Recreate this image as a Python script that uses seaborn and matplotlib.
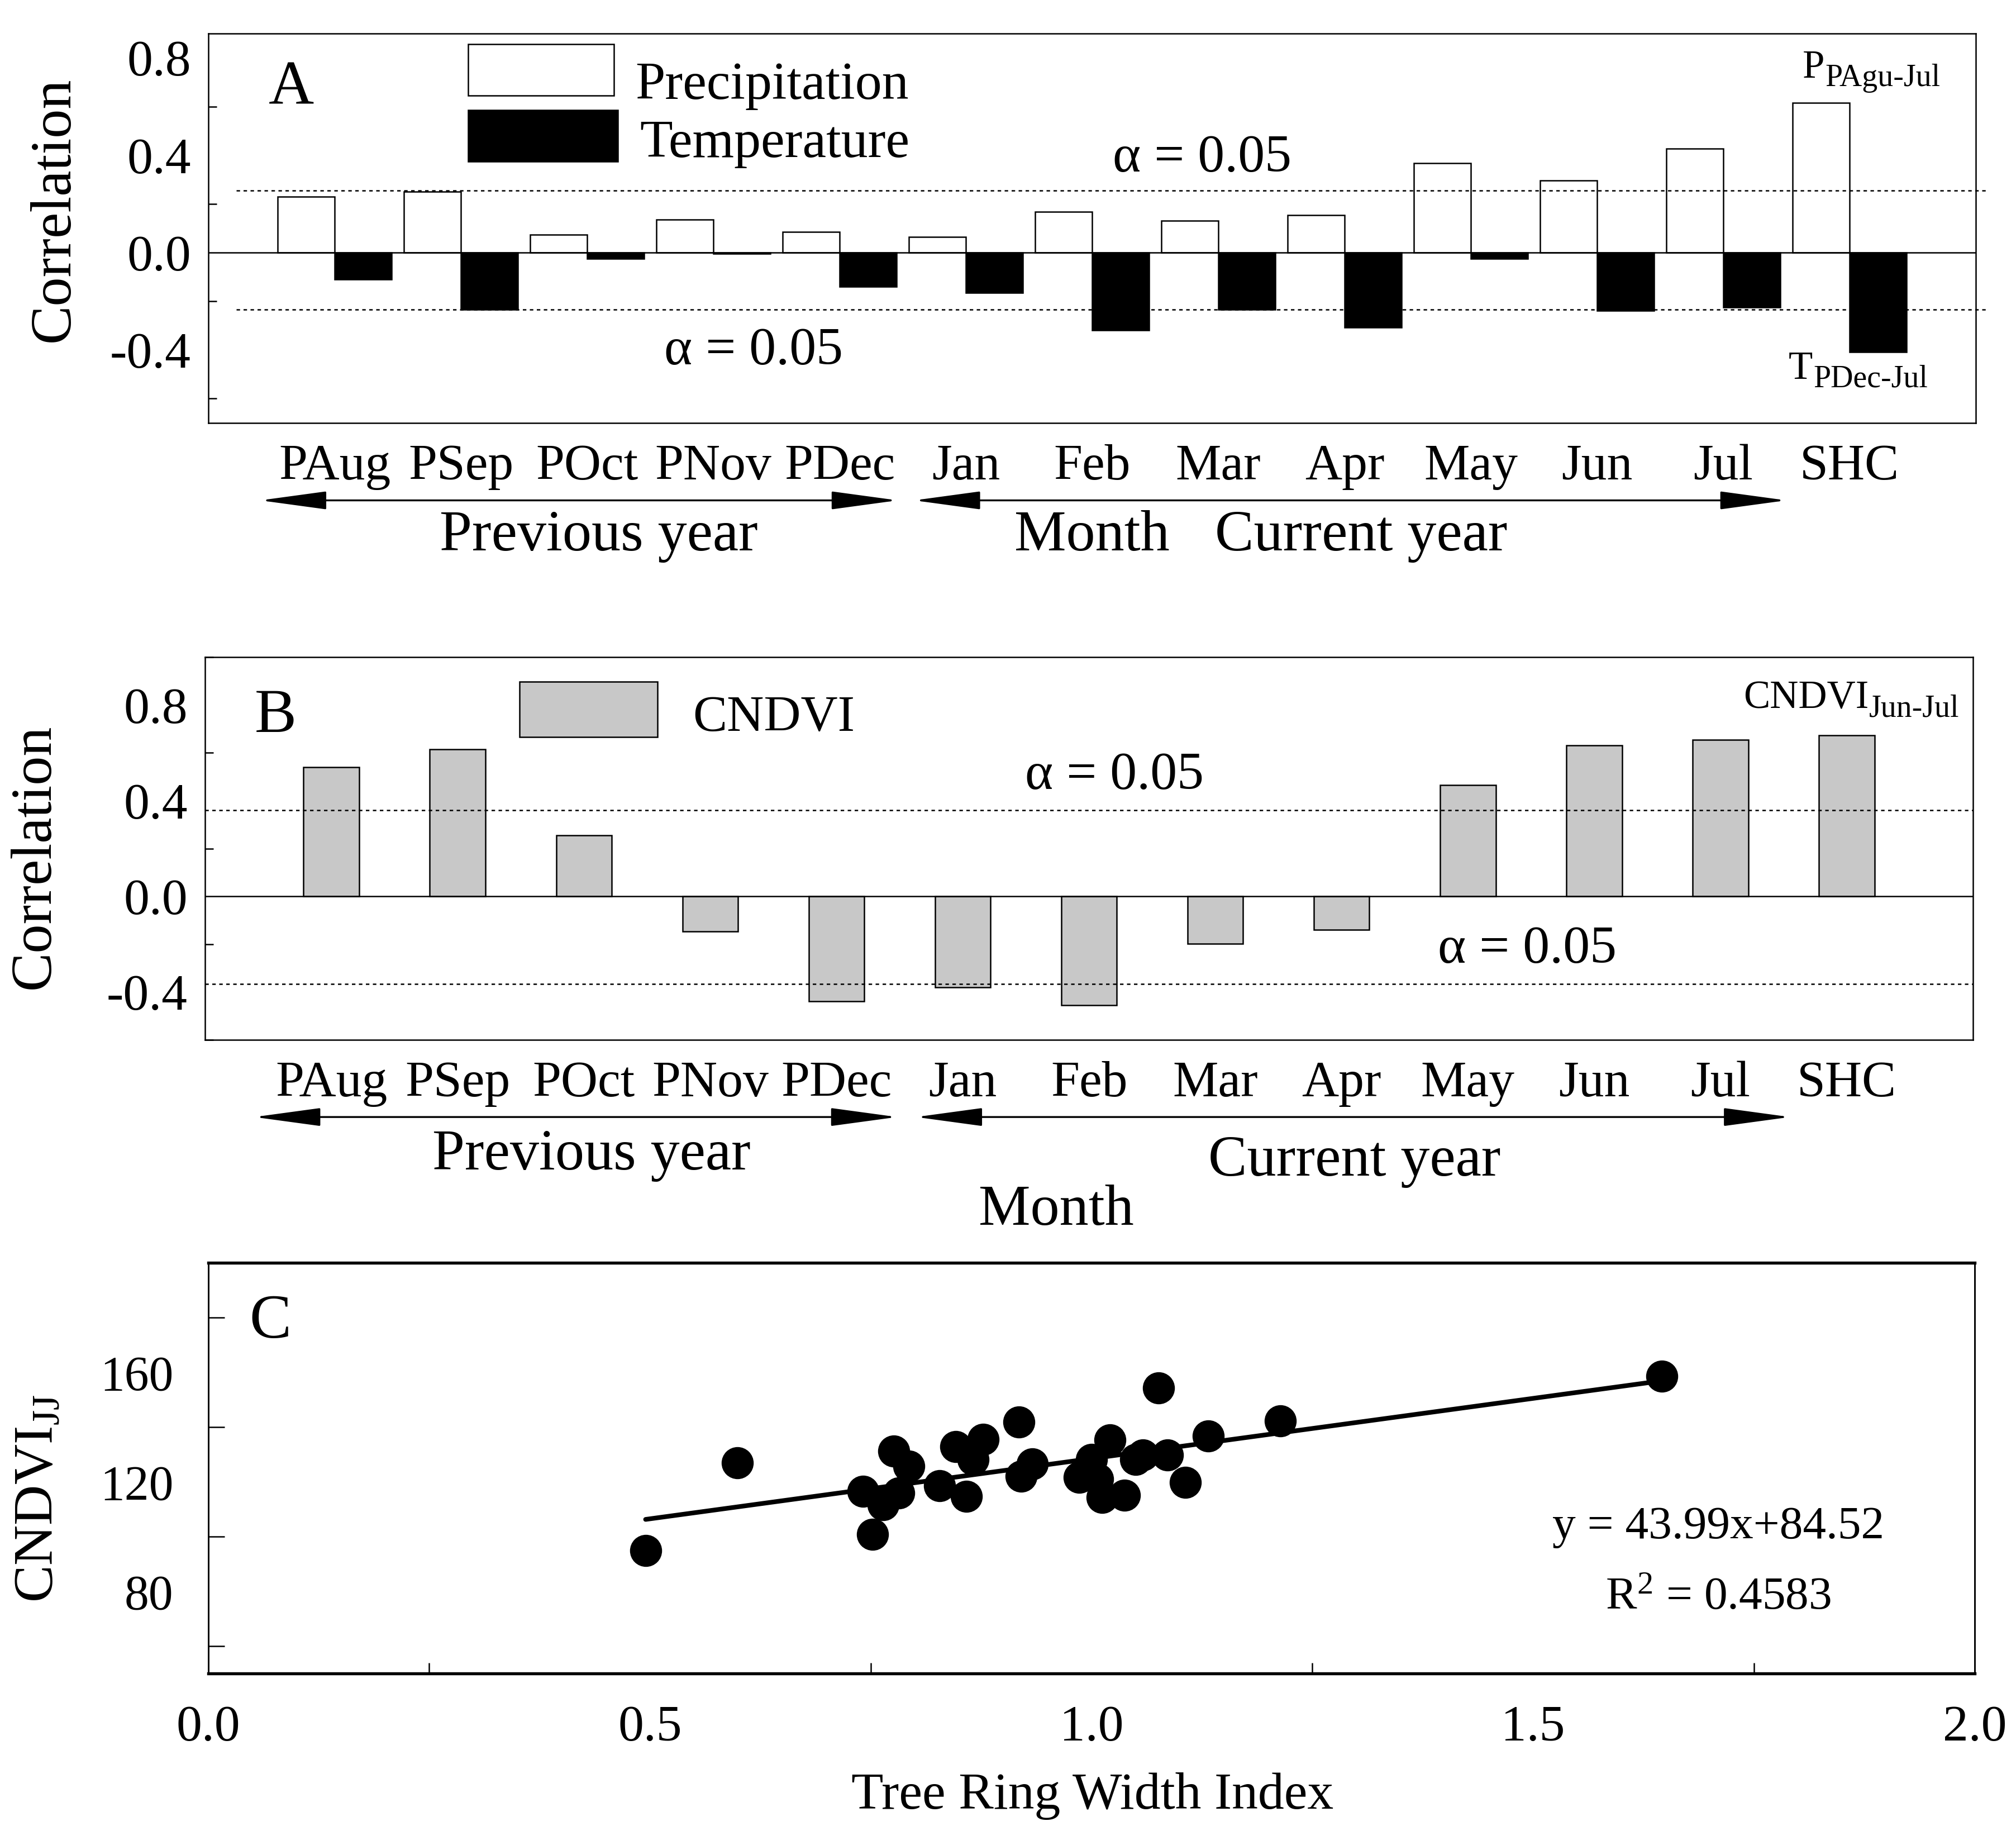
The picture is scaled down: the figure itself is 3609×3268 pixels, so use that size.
import seaborn as sns
import pandas as pd
import matplotlib.pyplot as plt
from matplotlib.patches import Rectangle
from matplotlib.ticker import MultipleLocator, FixedLocator, FormatStrFormatter

MONTHS = ['PAug', 'PSep', 'POct', 'PNov', 'PDec', 'Jan', 'Feb', 'Mar', 'Apr', 'May', 'Jun', 'Jul', 'SHC']

# panel A: correlation with climate
precip = [0.230, 0.250, 0.074, 0.135, 0.084, 0.064, 0.167, 0.132, 0.155, 0.367, 0.296, 0.428, 0.615]
temp = [-0.109, -0.235, -0.025, -0.005, -0.140, -0.166, -0.319, -0.235, -0.308, -0.025, -0.238, -0.225, -0.408]
sig_a = [0.256, -0.235]

# panel B: correlation with CNDVI
cndvi_r = [0.540, 0.614, 0.256, -0.147, -0.439, -0.379, -0.454, -0.199, -0.140, 0.465, 0.632, 0.655, 0.674]
sig_b = [0.361, -0.367]

# panel C: scatter
trw = [0.495, 0.599, 0.741, 0.752, 0.764, 0.776, 0.782, 0.793, 0.828, 0.846,
       0.858, 0.866, 0.877, 0.918, 0.920, 0.933, 0.986, 1.000, 1.007, 1.012,
       1.021, 1.037, 1.050, 1.058, 1.076, 1.086, 1.106, 1.132, 1.214, 1.646]
cndvi_jj = [95.0, 127.0, 116.6, 100.8, 111.6, 131.2, 116.0, 125.7, 118.6, 132.9,
            114.7, 128.2, 135.6, 141.8, 122.1, 126.5, 121.6, 128.2, 121.0, 114.4,
            135.4, 115.2, 128.2, 129.9, 154.3, 129.9, 119.9, 136.7, 142.3, 158.7]
SLOPE, INTERCEPT = 43.99, 84.52
C_YTICKS = [80, 120, 160]
C_YMINOR = [60, 100, 140, 180]

sns.set_style('white')
plt.rcParams['font.family'] = ['Liberation Serif', 'DejaVu Serif']
plt.rcParams['mathtext.fontset'] = 'custom'
plt.rcParams['mathtext.rm'] = 'Liberation Serif'
plt.rcParams['mathtext.it'] = 'Liberation Serif:italic'
plt.rcParams['axes.unicode_minus'] = False
plt.rcParams['text.color'] = 'black'

fig = plt.figure(figsize=(3609 / 300, 3268 / 300), dpi=300)
axA = fig.add_axes([0.1034, 0.7684, 0.8766, 0.2132])
axB = fig.add_axes([0.1017, 0.4305, 0.8770, 0.2096])
axC = fig.add_axes([0.1034, 0.0835, 0.8761, 0.2249])


def sub_label(ax, x, y, main, sub, size=17):
    t = ax.text(x, y, main, transform=ax.transAxes, fontsize=size, ha='left', va='baseline')
    ax.annotate(sub, xy=(1, 0), xycoords=t, xytext=(0.3, 0), textcoords='offset points',
                fontsize=size * 0.79, ha='left', va='baseline')


def arrow(ax, x0, x1, y):
    ax.annotate('', xy=(x1, y), xytext=(x0, y), xycoords=ax.get_xaxis_transform(),
                annotation_clip=False,
                arrowprops=dict(arrowstyle='<|-|>,head_length=25,head_width=3.4', mutation_scale=1,
                                lw=0.8, color='black', shrinkA=0, shrinkB=0))


def style_bar_axes(ax):
    for sp in ax.spines.values():
        sp.set_visible(True)
        sp.set_linewidth(0.6)
        sp.set_color('black')
    ax.set_xlim(-1, 13)
    ax.yaxis.set_major_locator(MultipleLocator(0.4))
    ax.yaxis.set_minor_locator(MultipleLocator(0.2))
    ax.yaxis.set_major_formatter(FormatStrFormatter('%.1f'))
    ax.tick_params(axis='both', which='both', direction='in', top=False, right=False, colors='black')
    ax.tick_params(axis='y', which='major', length=7.5, width=0.6, labelsize=22, pad=7.5)
    ax.tick_params(axis='y', which='minor', length=3.6, width=0.6, left=True)
    ax.tick_params(axis='x', which='major', length=7, width=0.6, labelsize=22, pad=9)
    ax.set_xlabel('')
    ax.set_ylabel('')
    ax.axhline(0, color='black', lw=0.6, zorder=3)


# ---- Panel A
dfA = pd.DataFrame({'month': MONTHS * 2,
                    'r': precip + temp,
                    'var': ['Precipitation'] * len(MONTHS) + ['Temperature'] * len(MONTHS)})
sns.barplot(data=dfA, x='month', y='r', hue='var', order=MONTHS,
            palette={'Precipitation': 'white', 'Temperature': 'black'},
            width=0.9, edgecolor='black', linewidth=0.6, saturation=1,
            errorbar=None, legend=False, ax=axA)
style_bar_axes(axA)
axA.set_ylim(-0.7, 0.9)
for s in sig_a:
    axA.plot([-0.78, 13.09], [s, s], color='black', lw=0.6, ls=(0, (2.5, 2.5)), clip_on=False)

axA.text(0.047, 0.858, 'A', transform=axA.transAxes, fontsize=27, ha='center', va='center')
axA.add_patch(Rectangle((0.147, 0.841), 0.0825, 0.132, transform=axA.transAxes,
                        facecolor='white', edgecolor='black', lw=0.6, clip_on=False))
axA.add_patch(Rectangle((0.147, 0.671), 0.0847, 0.133, transform=axA.transAxes,
                        facecolor='black', edgecolor='black', lw=0.6, clip_on=False))
axA.text(0.2415, 0.832, 'Precipitation', transform=axA.transAxes, fontsize=23, va='baseline')
axA.text(0.244, 0.683, 'Temperature', transform=axA.transAxes, fontsize=23, va='baseline')
axA.text(6.87, 0.332, 'α = 0.05', fontsize=23, ha='center', va='baseline')
axA.text(3.32, -0.46, 'α = 0.05', fontsize=23, ha='center', va='baseline')
sub_label(axA, 0.902, 0.887, 'P', 'PAgu-Jul')
sub_label(axA, 0.894, 0.1136, 'T', 'PDec-Jul')
axA.text(-0.087, 0.548, 'Correlation', transform=axA.transAxes, rotation=90,
         fontsize=25, ha='center', va='center')

arrow(axA, -0.59, 4.46, -0.199)
arrow(axA, 4.59, 11.5, -0.199)
tr = axA.get_xaxis_transform()
axA.text(2.09, -0.327, 'Previous year', transform=tr, fontsize=25, ha='center', va='baseline')
axA.text(6.0, -0.327, 'Month', transform=tr, fontsize=25, ha='center', va='baseline')
axA.text(8.13, -0.327, 'Current year', transform=tr, fontsize=25, ha='center', va='baseline')

# ---- Panel B
dfB = pd.DataFrame({'month': MONTHS, 'r': cndvi_r})
sns.barplot(data=dfB, x='month', y='r', order=MONTHS, color='#c8c8c8',
            width=0.44, edgecolor='black', linewidth=0.6, saturation=1,
            errorbar=None, ax=axB)
style_bar_axes(axB)
axB.set_ylim(-0.6, 1.0)
for s in sig_b:
    axB.axhline(s, color='black', lw=0.6, ls=(0, (2.5, 2.5)))

axB.text(0.040, 0.844, 'B', transform=axB.transAxes, fontsize=27, ha='center', va='center')
axB.add_patch(Rectangle((0.178, 0.791), 0.078, 0.1445, transform=axB.transAxes,
                        facecolor='#c8c8c8', edgecolor='black', lw=0.6, clip_on=False))
axB.text(0.276, 0.807, 'CNDVI', transform=axB.transAxes, fontsize=22, va='baseline')
axB.text(6.2, 0.45, 'α = 0.05', fontsize=23, ha='center', va='baseline')
axB.text(9.47, -0.278, 'α = 0.05', fontsize=23, ha='center', va='baseline')
sub_label(axB, 0.870, 0.867, 'CNDVI', 'Jun-Jul')
axB.text(-0.096, 0.48, 'Correlation', transform=axB.transAxes, rotation=90,
         fontsize=25, ha='center', va='center')

arrow(axB, -0.61, 4.48, -0.2015)
arrow(axB, 4.63, 11.55, -0.2015)
tr = axB.get_xaxis_transform()
axB.text(2.06, -0.339, 'Previous year', transform=tr, fontsize=25, ha='center', va='baseline')
axB.text(8.1, -0.355, 'Current year', transform=tr, fontsize=25, ha='center', va='baseline')
axB.text(5.74, -0.483, 'Month', transform=tr, fontsize=25, ha='center', va='baseline')

# ---- Panel C
dfC = pd.DataFrame({'trw': trw, 'cndvi': cndvi_jj})
sns.scatterplot(data=dfC, x='trw', y='cndvi', color='black', s=190, linewidth=0, ax=axC, zorder=3)
line_x = [min(trw), max(trw)]
line_y = [SLOPE * v + INTERCEPT for v in line_x]
sns.lineplot(x=line_x, y=line_y, color='black', lw=2.0, ax=axC)

axC.set_xlim(0, 2)
axC.set_ylim(50, 200)
for name, sp in axC.spines.items():
    sp.set_visible(True)
    sp.set_color('black')
    sp.set_linewidth(1.3 if name in ('top', 'bottom') else 0.7)
axC.xaxis.set_major_locator(MultipleLocator(0.5))
axC.xaxis.set_minor_locator(MultipleLocator(0.25))
axC.xaxis.set_major_formatter(FormatStrFormatter('%.1f'))
axC.yaxis.set_major_locator(FixedLocator(C_YTICKS))
axC.yaxis.set_minor_locator(FixedLocator(C_YMINOR))
axC.tick_params(axis='both', which='both', direction='in', top=False, right=False, colors='black')
axC.tick_params(axis='x', which='major', length=9.5, width=0.6, labelsize=22, pad=13.5)
axC.tick_params(axis='x', which='minor', length=4.5, width=0.6, bottom=True)
axC.tick_params(axis='y', which='major', length=7, width=0.6, labelsize=21, pad=15)
axC.tick_params(axis='y', which='minor', length=7, width=0.6, left=True)
axC.set_xlabel('')
axC.set_ylabel('')
axC.text(0.5006, -0.329, 'Tree Ring Width Index', transform=axC.transAxes,
         fontsize=22.5, ha='center', va='baseline')
axC.text(-0.096, 0.426, r'CNDVI$_{\mathrm{JJ}}$', transform=axC.transAxes, rotation=90,
         fontsize=24, ha='center', va='center')
axC.text(0.035, 0.854, 'C', transform=axC.transAxes, fontsize=27, ha='center', va='center')
axC.text(0.855, 0.33, 'y = 43.99x+84.52', transform=axC.transAxes, fontsize=20,
         ha='center', va='baseline')
axC.text(0.855, 0.158, r'R$^{2}$ = 0.4583', transform=axC.transAxes, fontsize=20,
         ha='center', va='baseline')

fig.savefig('out.png', dpi=300, facecolor='white')
